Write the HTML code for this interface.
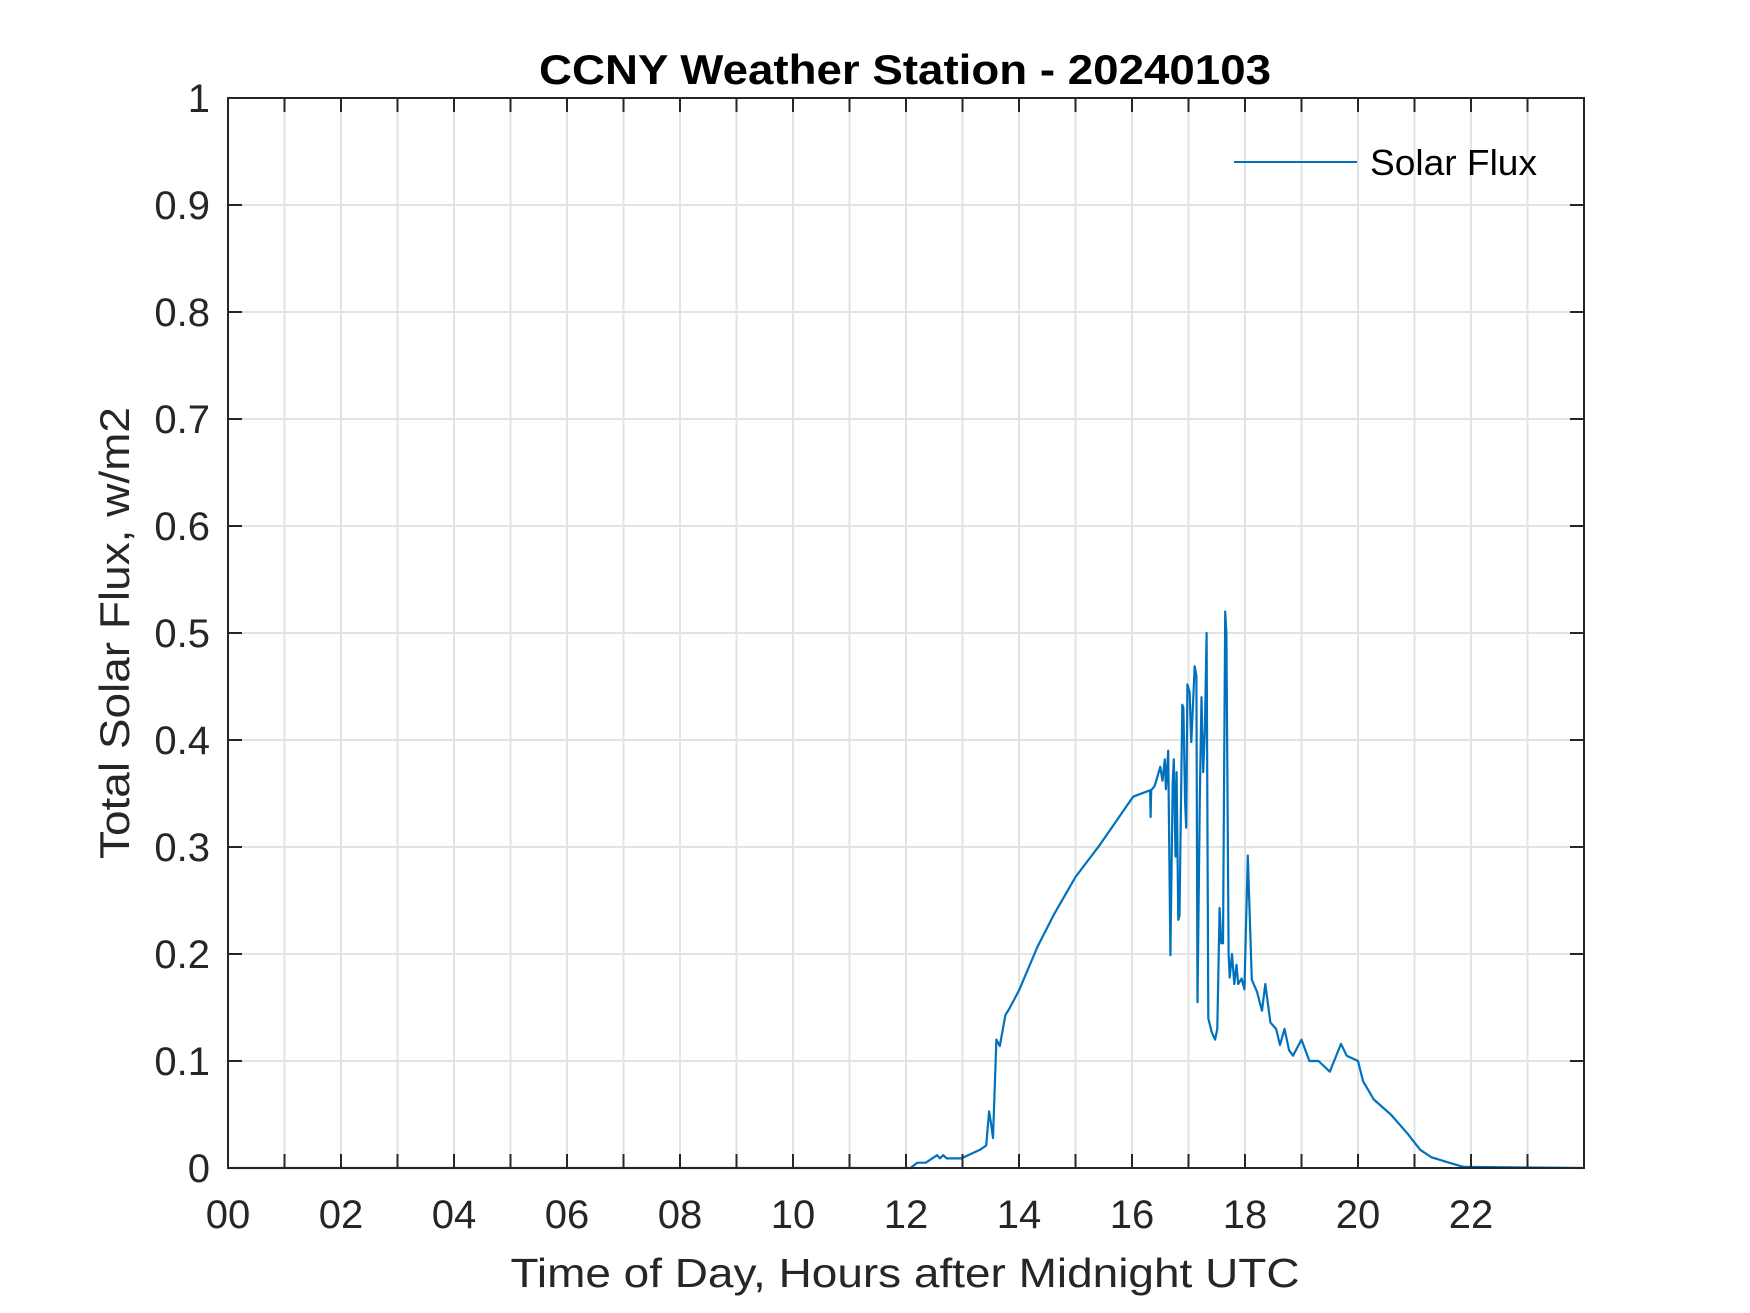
<!DOCTYPE html>
<html><head><meta charset="utf-8"><style>
html,body{margin:0;padding:0;background:#fff;}
svg{display:block;font-family:"Liberation Sans",Arial,sans-serif;}
</style></head><body>
<svg id="chart" width="1750" height="1313" viewBox="0 0 1750 1313" xmlns="http://www.w3.org/2000/svg">
<rect width="1750" height="1313" fill="#fff"/>
<g id="grid"></g>
<g id="series"></g>
<g id="axes"></g>
<text x="905" y="84" text-anchor="middle" font-size="42" font-weight="bold" fill="#000" textLength="732" lengthAdjust="spacingAndGlyphs">CCNY Weather Station - 20240103</text>
<text x="905" y="1287" text-anchor="middle" font-size="41" fill="#262626" textLength="789" lengthAdjust="spacingAndGlyphs">Time of Day, Hours after Midnight UTC</text>
<text transform="translate(129,633) rotate(-90)" text-anchor="middle" font-size="42" fill="#262626" textLength="452" lengthAdjust="spacingAndGlyphs">Total Solar Flux, w/m2</text>
<g>
<line x1="1234" y1="162" x2="1357" y2="162" stroke="#0072BD" stroke-width="2"/>
<text x="1370" y="175" font-size="36" fill="#000" textLength="167" lengthAdjust="spacingAndGlyphs">Solar Flux</text>
</g>
</svg>
<script>
const hours = [0,12.0,12.08,12.2,12.35,12.55,12.6,12.66,12.72,12.98,13.31,13.42,13.47,13.51,13.54,13.6,13.66,13.76,13.82,14.0,14.33,14.63,15.0,15.43,16.02,16.32,16.33,16.34,16.4,16.5,16.54,16.58,16.6,16.64,16.68,16.72,16.74,16.77,16.79,16.82,16.84,16.89,16.91,16.94,16.96,16.98,17.02,17.05,17.11,17.14,17.16,17.2,17.23,17.26,17.29,17.32,17.35,17.41,17.47,17.51,17.55,17.58,17.61,17.65,17.67,17.71,17.73,17.77,17.81,17.85,17.88,17.94,17.99,18.05,18.12,18.21,18.3,18.36,18.45,18.55,18.62,18.7,18.78,18.85,19.0,19.14,19.3,19.5,19.7,19.8,20.0,20.09,20.28,20.58,20.88,21.1,21.3,21.67,21.87,24];
const flux = [0,0,0,0.005,0.005,0.012,0.009,0.012,0.009,0.009,0.017,0.021,0.053,0.04,0.028,0.12,0.114,0.143,0.148,0.166,0.207,0.238,0.272,0.302,0.347,0.353,0.328,0.353,0.357,0.375,0.362,0.382,0.354,0.39,0.199,0.36,0.382,0.291,0.37,0.232,0.236,0.433,0.43,0.342,0.318,0.452,0.445,0.398,0.469,0.46,0.155,0.345,0.44,0.37,0.41,0.5,0.14,0.127,0.12,0.13,0.243,0.21,0.21,0.52,0.5,0.2,0.178,0.2,0.172,0.19,0.172,0.177,0.167,0.292,0.176,0.165,0.147,0.172,0.136,0.13,0.115,0.13,0.11,0.105,0.12,0.1,0.1,0.09,0.116,0.105,0.1,0.081,0.064,0.05,0.032,0.017,0.01,0.004,0.001,0];
const xTickLabels = ["00","02","04","06","08","10","12","14","16","18","20","22"];
const yTickLabels = ["0","0.1","0.2","0.3","0.4","0.5","0.6","0.7","0.8","0.9","1"];

const L=228,R=1584,T=98,B=1168,NS="http://www.w3.org/2000/svg";
const xs=h=>L+(h/24)*(R-L);
const ys=v=>B-(v/1)*(B-T);
function mk(tag,attrs,parent){const e=document.createElementNS(NS,tag);for(const k in attrs)e.setAttribute(k,attrs[k]);parent.appendChild(e);return e;}
const grid=document.getElementById('grid'),axes=document.getElementById('axes'),ser=document.getElementById('series');
for(let h=1;h<24;h++){
  const g=mk('line',{x1:xs(h),x2:xs(h),y1:T,y2:B,stroke:'#e3e3e3','stroke-width':2},grid);
  
  
  mk('line',{x1:xs(h),x2:xs(h),y1:B,y2:B-14,stroke:'#262626','stroke-width':2},axes);
  mk('line',{x1:xs(h),x2:xs(h),y1:T,y2:T+14,stroke:'#262626','stroke-width':2},axes);
}
xTickLabels.forEach((lab,i)=>{
  const t=mk('text',{x:xs(i*2),y:1228,'text-anchor':'middle','font-size':40,fill:'#262626'},axes);
  t.textContent=lab;
  
  
});
yTickLabels.forEach((lab,i)=>{
  const v=parseFloat(lab);
  if(v>0&&v<1){
    const g=mk('line',{x1:L,x2:R,y1:ys(v),y2:ys(v),stroke:'#e3e3e3','stroke-width':2},grid);
    
    
    mk('line',{x1:L,x2:L+14,y1:ys(v),y2:ys(v),stroke:'#262626','stroke-width':2},axes);
    mk('line',{x1:R,x2:R-14,y1:ys(v),y2:ys(v),stroke:'#262626','stroke-width':2},axes);
  }
  const t=mk('text',{x:210,y:ys(v)+14,'text-anchor':'end','font-size':40,fill:'#262626'},axes);
  t.textContent=lab;
  
  
});
const frame=mk('rect',{x:L,y:T,width:R-L,height:B-T,fill:'none',stroke:'#262626','stroke-width':2},axes);


const pts=hours.map((h,i)=>xs(h).toFixed(1)+','+ys(flux[i]).toFixed(1)).join(' ');
const line=mk('polyline',{points:pts,fill:'none',stroke:'#0072BD','stroke-width':2.2,'stroke-linejoin':'round'},ser);


</script>
</body></html>
